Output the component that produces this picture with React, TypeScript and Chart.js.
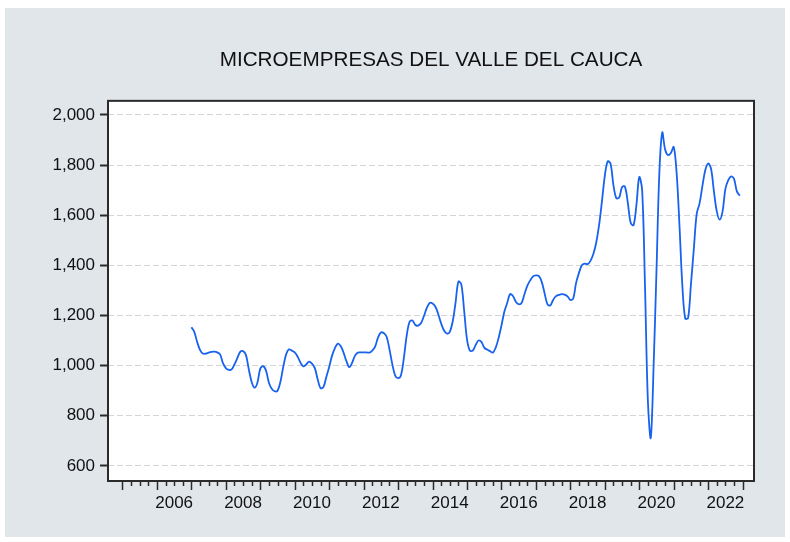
import { useEffect, useRef } from "react";
import { Chart, registerables } from "chart.js";

Chart.register(...registerables);

const TITLE = "MICROEMPRESAS DEL VALLE DEL CAUCA";
const START_YEAR = 2007; // monthly series, first observation 2007M01

const values2007 = [1153, 1135, 1095, 1063, 1048, 1048, 1052, 1055, 1056, 1053, 1045, 1010];
const values2008 = [990, 983, 985, 1005, 1030, 1055, 1058, 1043, 985, 935, 912, 932];
const values2009 = [988, 998, 980, 932, 908, 898, 900, 935, 995, 1045, 1065, 1060];
const values2010 = [1053, 1036, 1012, 997, 1005, 1016, 1008, 990, 945, 910, 915, 955];
const values2011 = [995, 1040, 1070, 1088, 1078, 1052, 1018, 994, 1012, 1040, 1052, 1053];
const values2012 = [1053, 1053, 1052, 1060, 1076, 1112, 1132, 1130, 1115, 1065, 1005, 960];
const values2013 = [950, 962, 1030, 1120, 1175, 1180, 1162, 1160, 1170, 1198, 1230, 1250];
const values2014 = [1248, 1235, 1205, 1168, 1140, 1128, 1135, 1175, 1250, 1335, 1325, 1220];
const values2015 = [1105, 1060, 1060, 1082, 1100, 1095, 1072, 1064, 1058, 1052, 1072, 1110];
const values2016 = [1160, 1215, 1250, 1285, 1278, 1255, 1245, 1250, 1285, 1318, 1340, 1356];
const values2017 = [1360, 1358, 1335, 1290, 1245, 1240, 1262, 1277, 1282, 1285, 1283, 1276];
const values2018 = [1262, 1268, 1330, 1370, 1400, 1407, 1405, 1418, 1445, 1490, 1560, 1655];
const values2019 = [1757, 1815, 1805, 1720, 1668, 1670, 1712, 1714, 1650, 1570, 1560, 1640];
const values2020 = [1752, 1700, 1315, 860, 712, 1000, 1380, 1770, 1930, 1862, 1840, 1848];
const values2021 = [1872, 1770, 1560, 1320, 1188, 1190, 1325, 1465, 1605, 1647, 1717, 1780];
const values2022 = [1806, 1785, 1695, 1615, 1582, 1614, 1705, 1740, 1755, 1745, 1695, 1678];

const series = [
  ...values2007, ...values2008, ...values2009, ...values2010,
  ...values2011, ...values2012, ...values2013, ...values2014,
  ...values2015, ...values2016, ...values2017, ...values2018,
  ...values2019, ...values2020, ...values2021, ...values2022,
];

const yTickValues = [600, 800, 1000, 1200, 1400, 1600, 1800, 2000];
const xLabelYears = [2006, 2008, 2010, 2012, 2014, 2016, 2018, 2020, 2022];
const X_MIN = 2004.58;
const X_MAX = 2023.33;
const Y_MIN = 540;
const Y_MAX = 2056;
const X_TICK_FIRST = 2005;
const X_TICK_LAST = 2023;

const GRAY = "#e1e6eb";
const FONT = "'Liberation Sans', Arial, sans-serif";

export default function App() {
  const ref = useRef<HTMLCanvasElement | null>(null);

  useEffect(() => {
    const canvas = ref.current;
    if (!canvas) return;

    const framePlugin = {
      id: "frame",
      beforeDraw(chart: any) {
        const { ctx, chartArea: a } = chart;
        ctx.save();
        ctx.fillStyle = "#ffffff";
        ctx.fillRect(0, 0, chart.width, chart.height);
        ctx.fillStyle = GRAY;
        ctx.fillRect(5, 8, 780, 529);
        ctx.fillStyle = "#ffffff";
        ctx.fillRect(a.left, a.top, a.right - a.left, a.bottom - a.top);
        ctx.restore();
      },
      afterDraw(chart: any) {
        const { ctx, chartArea: a, scales } = chart;
        const xs = scales.x;
        ctx.save();
        ctx.strokeStyle = "#2b2b2b";
        ctx.lineWidth = 1.5;
        for (let q = X_TICK_FIRST * 4; q <= X_TICK_LAST * 4; q++) {
          const px = Math.round(xs.getPixelForValue(q / 4)) + 0.5;
          const len = q % 4 === 0 ? 9 : 5;
          ctx.beginPath();
          ctx.moveTo(px, a.bottom);
          ctx.lineTo(px, a.bottom + len);
          ctx.stroke();
        }
        ctx.lineWidth = 2;
        ctx.strokeRect(a.left, a.top, a.right - a.left, a.bottom - a.top);
        ctx.restore();
      },
    };

    const chart = new Chart(canvas, {
      type: "line",
      data: {
        datasets: [
          {
            data: series.map((v, i) => ({ x: START_YEAR + i / 12, y: v })),
            borderColor: "#1762ee",
            borderWidth: 1.8,
            pointRadius: 0,
            tension: 0.35,
            fill: false,
          },
        ],
      },
      options: {
        responsive: false,
        devicePixelRatio: 1,
        animation: false,
        layout: { padding: { left: 0, right: 36, top: 0, bottom: 0 } },
        plugins: {
          legend: { display: false },
          tooltip: { enabled: false },
          title: {
            display: true,
            text: TITLE,
            fullSize: false,
            color: "#111111",
            font: { family: FONT, size: 20.7, weight: "normal", lineHeight: 1.2 },
            padding: { top: 48, bottom: 28 },
          },
        },
        scales: {
          x: {
            type: "linear",
            min: X_MIN,
            max: X_MAX,
            grid: { display: false, drawTicks: false },
            border: { display: false },
            afterBuildTicks: (scale: any) => {
              scale.ticks = xLabelYears.map((y) => ({ value: y + 0.5 }));
            },
            afterFit: (scale: any) => {
              scale.height = 61;
            },
            ticks: {
              autoSkip: false,
              maxRotation: 0,
              padding: 12,
              color: "#111111",
              font: { family: FONT, size: 17 },
              callback: (value: any) => String(Math.floor(Number(value))),
            },
          },
          y: {
            type: "linear",
            min: Y_MIN,
            max: Y_MAX,
            afterBuildTicks: (scale: any) => {
              scale.ticks = yTickValues.map((v) => ({ value: v }));
            },
            afterFit: (scale: any) => {
              scale.width = 108;
            },
            grid: {
              color: "#d4d4d4",
              lineWidth: 1,
              drawTicks: true,
              tickLength: 8,
              tickColor: "#2b2b2b",
              tickWidth: 2,
              tickBorderDash: [],
            },
            border: { display: false, dash: [6, 3] },
            ticks: {
              padding: 5,
              color: "#111111",
              font: { family: FONT, size: 17 },
              callback: (value: any) => Number(value).toLocaleString("en-US"),
            },
          },
        },
      },
      plugins: [framePlugin],
    });

    return () => chart.destroy();
  }, []);

  return (
    <div style={{ position: "fixed", left: 0, top: 0, width: 790, height: 542 }}>
      <canvas ref={ref} width={790} height={542} style={{ display: "block" }} />
    </div>
  );
}
